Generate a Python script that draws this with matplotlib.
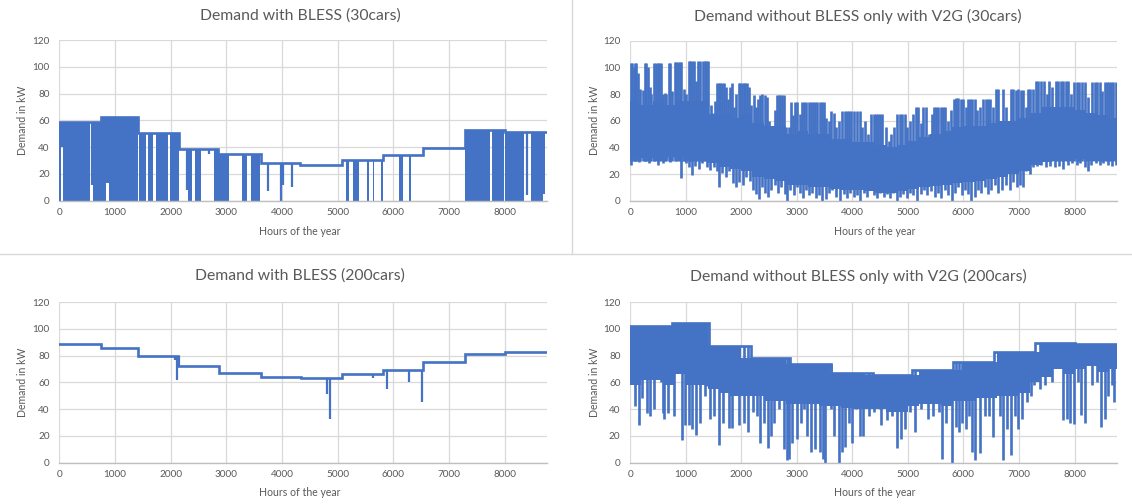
import numpy as np
import matplotlib.pyplot as plt

plt.rcParams['font.family'] = ['Lato', 'DejaVu Sans']

BLUE = "#4472C4"
TXT = "#595959"
GRID = "#D9D9D9"

YEAR_END = 8760
HOUR_TICKS = [0, 1000, 2000, 3000, 4000, 5000, 6000, 7000, 8000]
DEMAND_TICKS = [0, 20, 40, 60, 80, 100, 120]

# ---------------- Demand with BLESS (30cars)
bless30_step_start = [0, 750, 1420, 2150, 2850, 3620, 4330, 5080, 5820, 6540, 7280, 8000]
bless30_step_level = [58.5, 62.5, 50.5, 38.5, 35, 28, 26.5, 30.5, 34, 39.5, 53, 51]
# (start hour, end hour, lowest value) of the dense blocks
bless30_blocks = [(0, 35, 0), (75, 560, 0), (600, 750, 0), (750, 830, 0), (830, 900, 13),
                  (900, 1415, 0), (1440, 1560, 0), (1600, 1680, 0),
                  (1740, 1960, 0), (1990, 2150, 0), (2320, 2380, 0), (2440, 2540, 0),
                  (2780, 2850, 0), (2850, 3040, 0), (3290, 3380, 0), (3440, 3600, 0),
                  (5150, 5200, 0), (5270, 5380, 0), (5530, 5560, 0), (5630, 5660, 0),
                  (5770, 5815, 0), (6110, 6170, 0), (6280, 6320, 0), (7290, 7740, 0),
                  (7780, 7990, 0), (8000, 8350, 0), (8470, 8680, 0), (8690, 8730, 5)]
bless30_dips = [(50, 40), (130, 12), (580, 12), (2300, 8), (2680, 35), (3750, 7), (3990, 0),
                (4010, 12), (4180, 10), (8400, 4)]

# ---------------- Demand with BLESS (200cars)
bless200_step_start = [0, 750, 1420, 2130, 2870, 3620, 4340, 5080, 5820, 6530, 7280, 8000]
bless200_step_level = [88.5, 85.5, 79.5, 72.5, 67, 64, 63, 66, 69.5, 75.5, 81.5, 83]
bless200_dips = [(2080, 77), (2110, 62), (2145, 80), (4800, 51), (4870, 33), (5640, 63),
                 (5880, 55), (6280, 60), (6520, 45)]

# ---------------- Demand without BLESS only with V2G (30cars)
bin_edges = [0, 200, 400, 600, 800, 1000, 1200, 1400, 1600, 1800, 2000, 2200, 2400, 2600,
             2800, 3000, 3200, 3400, 3600, 3800, 4000, 4200, 4400, 4600, 4800, 5000, 5200,
             5400, 5600, 5800, 6000, 6200, 6400, 6600, 6800, 7000, 7200, 7400, 7600, 7800,
             8000, 8200, 8400, 8600, 8760]
v2g30_core_lo = [32, 32, 32, 33, 33, 30, 30, 28, 25, 24, 22, 18, 16, 15, 12, 12, 10, 10, 9, 8,
                 8, 7, 6, 6, 7, 9, 10, 11, 12, 13, 14, 15, 16, 18, 20, 22, 27, 29, 30, 30,
                 31, 30, 30, 30]
v2g30_core_hi = [75, 72, 75, 72, 75, 75, 75, 65, 65, 62, 65, 58, 56, 56, 50, 52, 50, 50, 46, 46,
                 44, 44, 42, 40, 42, 45, 48, 50, 52, 55, 56, 56, 58, 60, 60, 62, 66, 70, 70, 70,
                 68, 66, 64, 62]
v2g30_up = [(10, 103), (30, 103), (60, 100), (90, 103), (110, 103), (140, 96), (180, 84), (220, 83),
            (260, 103), (290, 103), (310, 100), (350, 85), (380, 80), (430, 103), (460, 103),
            (490, 103), (520, 103), (550, 103), (580, 80), (620, 81), (650, 80), (690, 103),
            (720, 103), (760, 82), (800, 104), (830, 104), (860, 104), (890, 104), (920, 104),
            (960, 84), (1000, 80), (1050, 105), (1080, 105), (1110, 105), (1140, 105), (1180, 90),
            (1220, 105), (1250, 105), (1280, 70), (1310, 105), (1340, 105), (1370, 105),
            (1400, 105), (1450, 72), (1480, 66), (1520, 75), (1560, 88), (1590, 88), (1620, 88),
            (1650, 88), (1680, 88), (1720, 85), (1760, 76), (1800, 85), (1830, 88), (1870, 70),
            (1910, 80), (1950, 88), (1980, 88), (2010, 88), (2040, 88), (2070, 88), (2100, 88),
            (2130, 85), (2170, 72), (2220, 79), (2260, 70), (2300, 76), (2340, 79), (2380, 80),
            (2420, 79), (2460, 78), (2500, 60), (2540, 56), (2600, 68), (2640, 79), (2670, 79),
            (2700, 79), (2740, 79), (2770, 79), (2810, 55), (2850, 55), (2890, 74), (2930, 64),
            (2970, 74), (3010, 74), (3050, 65), (3090, 74), (3130, 74), (3170, 74), (3210, 74),
            (3250, 74), (3290, 74), (3330, 74), (3370, 74), (3410, 74), (3450, 74), (3490, 74),
            (3530, 62), (3570, 60), (3620, 67), (3660, 66), (3700, 55), (3760, 60), (3820, 67),
            (3860, 67), (3900, 67), (3940, 67), (3980, 67), (4030, 67), (4080, 67), (4130, 67),
            (4180, 55), (4230, 60), (4280, 50), (4340, 65), (4380, 65), (4420, 65), (4460, 65),
            (4500, 65), (4540, 65), (4600, 55), (4650, 45), (4700, 50), (4750, 55), (4800, 65),
            (4850, 65), (4900, 65), (4940, 65), (4980, 55), (5040, 60), (5100, 65), (5140, 70),
            (5180, 70), (5240, 58), (5280, 70), (5320, 70), (5380, 50), (5430, 65), (5470, 70),
            (5510, 70), (5550, 70), (5590, 70), (5630, 70), (5670, 70), (5720, 60), (5780, 68),
            (5830, 76), (5870, 77), (5910, 77), (5950, 76), (5990, 76), (6040, 70), (6080, 76),
            (6120, 76), (6160, 76), (6200, 76), (6250, 68), (6300, 70), (6360, 76), (6400, 76),
            (6440, 76), (6480, 76), (6530, 70), (6580, 84), (6620, 84), (6680, 60), (6720, 84),
            (6770, 70), (6860, 84), (6900, 84), (6940, 83), (6990, 84), (7030, 83), (7080, 83),
            (7120, 70), (7160, 84), (7200, 84), (7250, 84), (7300, 90), (7340, 90), (7400, 90),
            (7450, 90), (7500, 80), (7540, 90), (7600, 85), (7670, 90), (7710, 90), (7750, 90),
            (7800, 90), (7850, 90), (7890, 90), (7940, 80), (7990, 89), (8040, 89), (8080, 89),
            (8140, 89), (8190, 89), (8250, 78), (8320, 89), (8360, 89), (8400, 89), (8450, 89),
            (8500, 82), (8540, 89), (8580, 89), (8620, 89), (8660, 89), (8700, 89), (8740, 89)]
v2g30_down = [(20, 27), (80, 30), (150, 29), (260, 30), (330, 28), (420, 30), (500, 27), (580, 28),
              (650, 31), (720, 29), (800, 33), (880, 31), (920, 17), (960, 30), (1010, 28),
              (1060, 25), (1110, 19), (1170, 26), (1240, 24), (1300, 28), (1380, 25), (1440, 23),
              (1500, 25), (1560, 22), (1600, 10), (1660, 21), (1720, 18), (1780, 22), (1850, 13),
              (1900, 10), (1960, 14), (2030, 12), (2090, 18), (2150, 15), (2210, 8), (2260, 5),
              (2320, 1), (2380, 10), (2430, 6), (2480, 3), (2540, 8), (2600, 12), (2660, 6),
              (2720, 10), (2780, 5), (2830, 0), (2880, 8), (2940, 4), (3000, 10), (3060, 6),
              (3110, 2), (3160, 8), (3220, 4), (3280, 6), (3340, 2), (3400, 4), (3460, 0),
              (3520, 1), (3580, 6), (3640, 8), (3700, 3), (3780, 0), (3840, 5), (3900, 2),
              (3960, 6), (4020, 3), (4080, 4), (4130, 0), (4200, 6), (4260, 3), (4320, 8),
              (4380, 4), (4440, 2), (4500, 6), (4560, 3), (4620, 5), (4680, 2), (4740, 6),
              (4800, 0), (4860, 3), (4920, 5), (4980, 2), (5040, 6), (5100, 4), (5170, 0),
              (5230, 5), (5290, 8), (5350, 4), (5420, 7), (5480, 3), (5540, 6), (5600, 2),
              (5660, 8), (5720, 4), (5790, 0), (5850, 6), (5910, 10), (5970, 4), (6030, 8),
              (6090, 5), (6140, 0), (6200, 3), (6260, 8), (6320, 6), (6380, 10), (6440, 5),
              (6500, 8), (6560, 12), (6620, 6), (6700, 8), (6760, 12), (6830, 8), (6900, 14),
              (6960, 10), (7020, 12), (7070, 10), (7130, 22), (7200, 20), (7260, 25), (7320, 26),
              (7400, 27), (7480, 25), (7560, 26), (7640, 25), (7720, 26), (7800, 24), (7880, 27),
              (7960, 28), (8040, 27), (8100, 28), (8180, 25), (8240, 22), (8300, 27), (8380, 28),
              (8450, 27), (8520, 28), (8600, 27), (8680, 26), (8740, 27)]

# ---------------- Demand without BLESS only with V2G (200cars)
v2g200_step_start = [0, 750, 1420, 2170, 2870, 3620, 4370, 5080, 5820, 6550, 7290, 8000]
v2g200_step_level = [102, 104, 87.5, 78.5, 74, 67, 65.5, 69.5, 75.5, 82.5, 89.5, 88.5]
v2g200_core_lo = [58, 62, 62, 58, 66, 58, 58, 55, 52, 50, 50, 50, 46, 46, 44, 44, 44, 42, 42, 41,
                  40, 40, 40, 38, 38, 42, 44, 44, 42, 46, 46, 48, 48, 50, 50, 52, 60, 64, 70, 66,
                  70, 72, 68, 70]
v2g200_down = [(25, 62), (90, 42), (155, 28), (207, 48), (305, 37), (357, 35), (420, 40), (480, 75),
               (545, 60), (585, 37), (610, 33), (680, 37), (790, 35), (870, 80), (935, 17),
               (985, 28), (1065, 28), (1115, 25), (1180, 21), (1260, 30), (1340, 50), (1390, 57),
               (1440, 33), (1505, 35), (1600, 13), (1670, 30), (1775, 26), (1840, 26), (1960, 28),
               (2055, 30), (2120, 23), (2205, 38), (2285, 35), (2335, 15), (2400, 30), (2475, 11),
               (2530, 20), (2595, 30), (2670, 40), (2770, 10), (2820, 2), (2865, 3), (2920, 15),
               (2995, 18), (3075, 30), (3125, 40), (3190, 20), (3255, 8), (3320, 10), (3420, 8),
               (3465, 3), (3515, 0), (3610, 40), (3675, 20), (3755, 0), (3805, 8), (3870, 12),
               (3935, 30), (4000, 15), (4065, 40), (4130, 20), (4195, 20), (4295, 35), (4390, 38),
               (4490, 40), (4520, 28), (4615, 32), (4715, 35), (4800, 11), (4875, 18), (4940, 25),
               (5040, 38), (5125, 23), (5235, 40), (5300, 45), (5365, 33), (5450, 35), (5560, 38),
               (5620, 3), (5690, 30), (5785, 0), (5870, 27), (5925, 23), (5980, 30), (6045, 25),
               (6095, 35), (6160, 8), (6205, 2), (6290, 7), (6380, 35), (6465, 35), (6530, 19),
               (6660, 35), (6720, 2), (6790, 25), (6855, 6), (6920, 35), (6985, 25), (7050, 33),
               (7145, 45), (7210, 50), (7275, 58), (7375, 55), (7470, 58), (7600, 60), (7795, 32),
               (7860, 33), (7925, 30), (7990, 29), (8055, 60), (8120, 36), (8185, 30), (8315, 58),
               (8410, 60), (8475, 27), (8540, 33), (8605, 50), (8670, 58), (8715, 45)]


def level_at(starts, levels, hour):
    idx = np.searchsorted(starts, hour, side="right") - 1
    return levels[max(idx, 0)]


def style_axes(ax):
    ax.set_xlim(0, YEAR_END)
    ax.set_ylim(0, 120)
    ax.set_xticks(HOUR_TICKS)
    ax.set_yticks(DEMAND_TICKS)
    ax.grid(True, color=GRID, lw=0.9)
    ax.set_axisbelow(True)
    for s in ["top", "right", "left"]:
        ax.spines[s].set_visible(False)
    ax.spines["bottom"].set_color("#BFBFBF")
    ax.spines["bottom"].set_linewidth(1.0)
    ax.tick_params(length=0, labelsize=7.2, labelcolor=TXT)
    ax.tick_params(axis="y", pad=7)
    ax.tick_params(axis="x", pad=5)


def draw_steps(ax, starts, levels):
    ax.step(list(starts) + [YEAR_END], list(levels) + [levels[-1]], where="post",
            color=BLUE, lw=1.9, solid_joinstyle="miter")


def label_chart(fig, title, cx, ty, xl_x, xl_y, yl_x, yl_y):
    fig.text(cx / 1132, 1 - ty / 504, title, ha="center", va="center", fontsize=11.3, color=TXT)
    fig.text(xl_x / 1132, 1 - xl_y / 504, "Hours of the year", ha="center", va="center",
             fontsize=7.6, color=TXT)
    fig.text(yl_x / 1132, 1 - yl_y / 504, "Demand in kW", ha="center", va="center",
             fontsize=7.6, color=TXT, rotation=90)


fig = plt.figure(figsize=(11.32, 5.04), dpi=100)

# dividers between the four charts
fig.add_artist(plt.Line2D([0, 1], [1 - 254 / 504] * 2, color=GRID, lw=1.0))
fig.add_artist(plt.Line2D([571.5 / 1132] * 2, [1 - 254 / 504, 1], color=GRID, lw=1.0))

ax_tl = fig.add_axes([0.0524, 0.6018, 0.4308, 0.3188])
ax_tr = fig.add_axes([0.5568, 0.6018, 0.4297, 0.3174])
ax_bl = fig.add_axes([0.0524, 0.0819, 0.4308, 0.3188])
ax_br = fig.add_axes([0.5568, 0.0819, 0.4297, 0.3188])

# top left
style_axes(ax_tl)
for s, e, b in bless30_blocks:
    lvl = level_at(bless30_step_start, bless30_step_level, s)
    ax_tl.bar(s, lvl - b, width=e - s, bottom=b, align="edge", color=BLUE, lw=0)
for h, v in bless30_dips:
    ax_tl.vlines(h, v, level_at(bless30_step_start, bless30_step_level, h), color=BLUE, lw=1.6)
draw_steps(ax_tl, bless30_step_start, bless30_step_level)

# top right
style_axes(ax_tr)
ax_tr.fill_between(bin_edges, v2g30_core_lo + [v2g30_core_lo[-1]], v2g30_core_hi + [v2g30_core_hi[-1]],
                   step="post", color=BLUE, lw=0)
ax_tr.vlines([h for h, _ in v2g30_up], 30, [v for _, v in v2g30_up], color=BLUE, lw=1.9)
ax_tr.vlines([h for h, _ in v2g30_down], [v for _, v in v2g30_down], 40, color=BLUE, lw=1.9)

# bottom left
style_axes(ax_bl)
for h, v in bless200_dips:
    ax_bl.vlines(h, v, level_at(bless200_step_start, bless200_step_level, h), color=BLUE, lw=1.6)
draw_steps(ax_bl, bless200_step_start, bless200_step_level)

# bottom right
style_axes(ax_br)
for i in range(len(v2g200_core_lo)):
    s, e = bin_edges[i], bin_edges[i + 1]
    top = min(level_at(v2g200_step_start, v2g200_step_level, s),
              level_at(v2g200_step_start, v2g200_step_level, e - 1))
    ax_br.bar(s, top - v2g200_core_lo[i], width=e - s, bottom=v2g200_core_lo[i],
              align="edge", color=BLUE, lw=0)
for h, v in v2g200_down:
    ax_br.vlines(h, v, level_at(v2g200_step_start, v2g200_step_level, h), color=BLUE, lw=1.9)
draw_steps(ax_br, v2g200_step_start, v2g200_step_level)

label_chart(fig, "Demand with BLESS (30cars)", 300, 16, 300, 232, 22, 120)
label_chart(fig, "Demand without BLESS only with V2G (30cars)", 858, 16, 875, 232, 595, 120)
label_chart(fig, "Demand with BLESS (200cars)", 300, 276, 300, 493, 22, 382)
label_chart(fig, "Demand without BLESS only with V2G (200cars)", 858, 276, 875, 493, 595, 382)

plt.savefig("out.png", dpi=100)
plt.close(fig)
